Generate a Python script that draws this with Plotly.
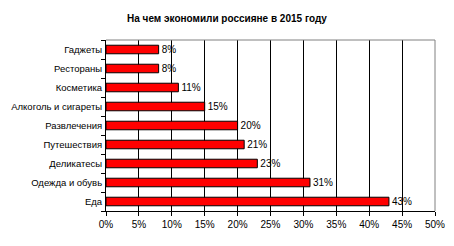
import plotly.graph_objects as go

categories = ["Еда", "Одежда и обувь", "Деликатесы", "Путешествия", "Развлечения",
              "Алкоголь и сигареты", "Косметика", "Рестораны", "Гаджеты"]
values = [43, 31, 23, 21, 20, 15, 11, 8, 8]
tick_vals = [0, 5, 10, 15, 20, 25, 30, 35, 40, 45, 50]
tick_text = [f"{v}%" for v in tick_vals]
labels = [f"{v}%" for v in values]

fig = go.Figure(go.Bar(
    y=categories, x=values, orientation="h",
    marker=dict(color="#FF0000", line=dict(color="black", width=1)),
    width=0.45,
    text=labels, textposition="outside", cliponaxis=False,
    constraintext="none",
    textfont=dict(family="Liberation Sans, Arial", size=10, color="black"),
))

fig.update_layout(
    width=454, height=246,
    margin=dict(l=106, r=19, t=40, b=35),
    paper_bgcolor="white", plot_bgcolor="white",
    showlegend=False,
    title=dict(text="<b>На чем экономили россияне в 2015 году</b>",
               x=0.5, xref="container", xanchor="center",
               y=0.925, yref="container", yanchor="middle",
               font=dict(family="Liberation Sans, Arial", size=10, color="black")),
    font=dict(family="Liberation Sans, Arial", size=10, color="black"),
    bargap=0.55,
    shapes=[
        dict(type="line", xref="paper", yref="paper", x0=0, x1=1, y0=1, y1=1,
             line=dict(color="#808080", width=1)),
        dict(type="line", xref="paper", yref="paper", x0=1, x1=1, y0=0, y1=1,
             line=dict(color="#808080", width=1)),
    ],
)
fig.update_xaxes(range=[0, 50], tickvals=tick_vals, ticktext=tick_text,
                 showgrid=True, gridcolor="black", gridwidth=1,
                 showline=True, linecolor="black", linewidth=1,
                 ticks="outside", ticklen=4, tickcolor="black",
                 zeroline=False, fixedrange=True, automargin=False,
                 tickfont=dict(size=10))
fig.update_yaxes(showline=True, linecolor="black", linewidth=1,
                 ticks="outside", ticklen=4, tickcolor="black",
                 tickson="boundaries", showgrid=False, automargin=False,
                 tickfont=dict(size=9.5), ticklabelstandoff=1)

fig.write_html("out.html")
